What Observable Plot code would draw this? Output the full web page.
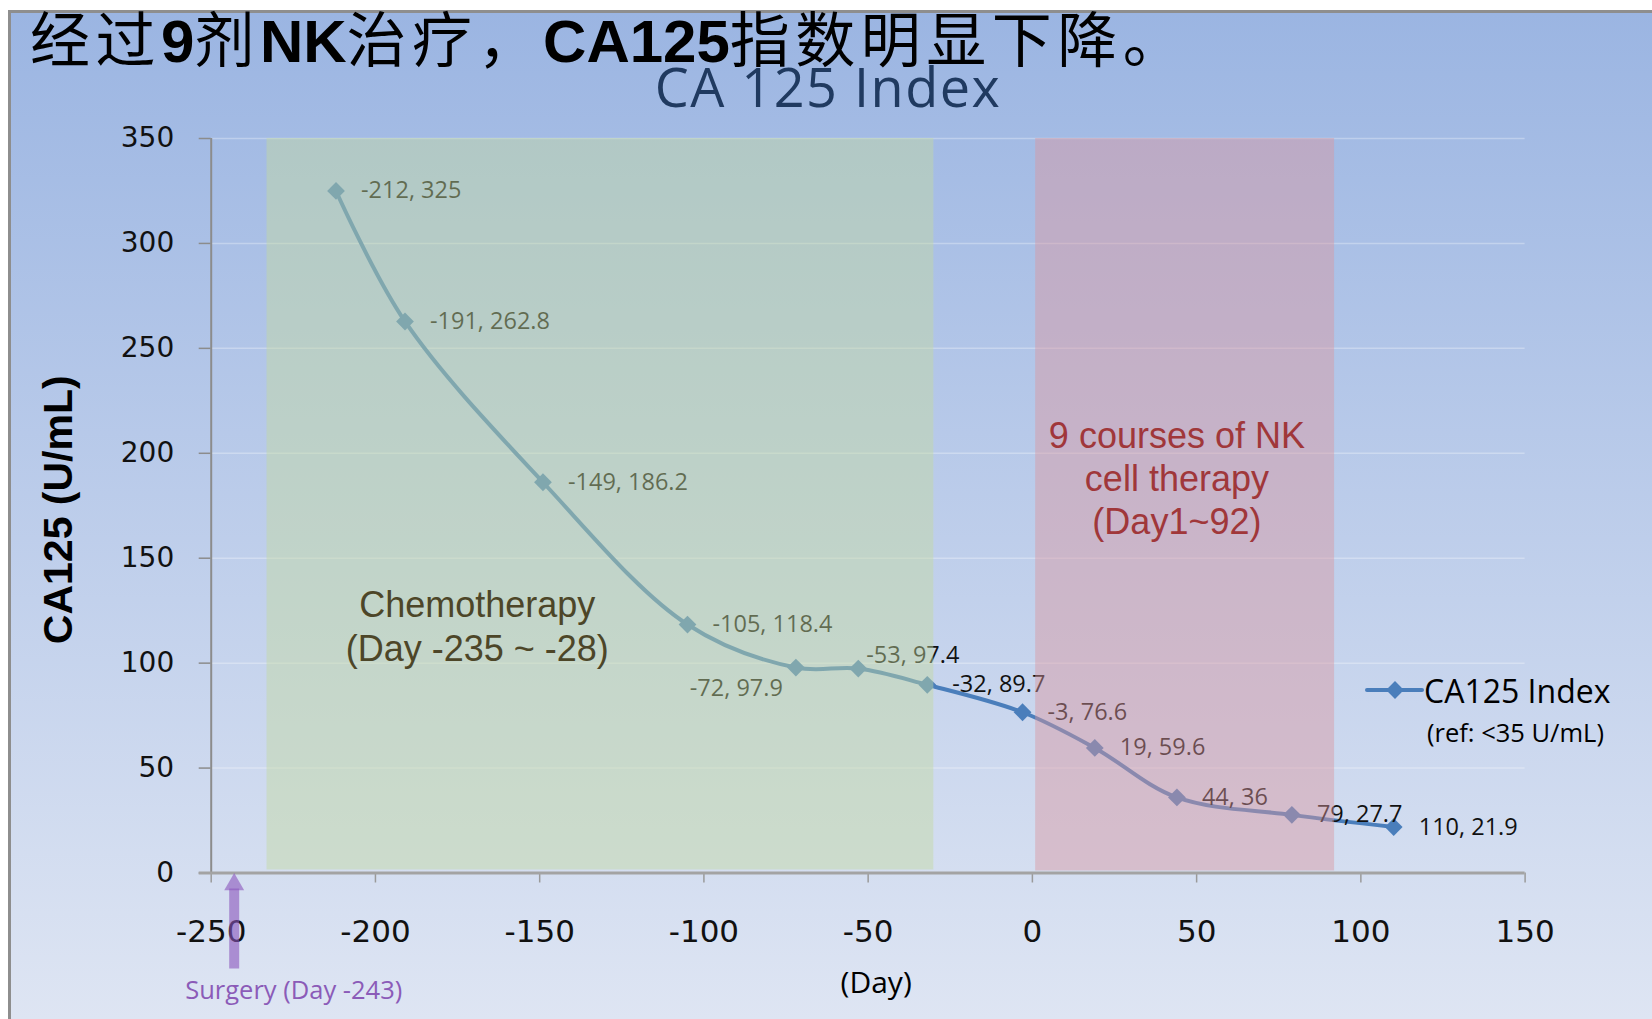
<!DOCTYPE html>
<html>
<head>
<meta charset="utf-8">
<script src="https://cdn.jsdelivr.net/npm/d3@7"></script>
<script src="https://cdn.jsdelivr.net/npm/@observablehq/plot@0.6"></script>
<style>
html,body{margin:0;padding:0;background:#fff;}
#wrap{position:relative;width:1652px;height:1019px;overflow:hidden;background:#fff;}
#panel{position:absolute;left:8px;top:10px;right:0;bottom:0;border-left:3px solid #8e8e8e;border-top:3px solid #8e8e8e;background:linear-gradient(to bottom,#9bb5e2 0%,#dee5f3 100%);}
#chart{position:absolute;left:0;top:0;}
#title{position:absolute;left:30px;top:9px;font-family:"Noto Sans CJK SC";font-size:60px;line-height:0.9;white-space:nowrap;color:#000;letter-spacing:5.5px;}
#title .lat{font-family:"Liberation Sans";font-weight:bold;letter-spacing:0;}
#subtitle{position:absolute;left:528px;width:600px;top:65px;text-align:center;font-family:"Open Sans";font-size:54px;line-height:0.8;color:#203a60;letter-spacing:1.5px;white-space:nowrap;}
#legendSwatch{position:absolute;left:1365px;top:680px;}
#legendName{position:absolute;left:1424px;top:675px;font-family:"Open Sans";font-size:32px;line-height:1;color:#000;white-space:nowrap;}
#legendRef{position:absolute;left:1427px;top:720px;font-family:"Open Sans";font-size:25.5px;line-height:1;color:#000;white-space:nowrap;}
</style>
</head>
<body>
<div id="wrap">
  <div id="panel"></div>
  <div id="chart"></div>
  <div id="title"></div>
  <div id="subtitle"></div>
  <svg id="legendSwatch" width="60" height="20"></svg>
  <div id="legendName"></div>
  <div id="legendRef"></div>
</div>
<script>
// ---- data ----
const titleText = "经过9剂NK治疗，CA125指数明显下降。";
const subtitleText = "CA 125 Index";
const seriesName = "CA125 Index";
const seriesRef = "(ref: <35 U/mL)";
const yTitle = "CA125 (U/mL)";
const xTitle = "(Day)";

const days = [-212, -191, -149, -105, -72, -53, -32, -3, 19, 44, 79, 110];
const ca125 = [325, 262.8, 186.2, 118.4, 97.9, 97.4, 89.7, 76.6, 59.6, 36, 27.7, 21.9];

const xTicks = [-250, -200, -150, -100, -50, 0, 50, 100, 150];
const yTicks = [0, 50, 100, 150, 200, 250, 300, 350];

const regionNames = ["Chemotherapy\n(Day -235 ~ -28)", "9 courses of NK\ncell therapy\n(Day1~92)"];
const regionStart = [-233, 1];
const regionEnd = [-30, 92];
const regionLabelDay = [-169, 44];
const regionLabelValue = [118, 188.5];

const surgeryDay = -243;
const surgeryLabel = "Surgery (Day -243)";

// ---- build ----
const points = days.map((d, i) => ({day: d, v: ca125[i], label: `${d}, ${ca125[i]}`}));
const regions = regionNames.map((n, i) => ({name: n, start: regionStart[i], end: regionEnd[i], lx: regionLabelDay[i], ly: regionLabelValue[i]}));

const lineColor = "#4a7ebb";
const special = new Set([-72, -53]);

const plot = Plot.plot({
  width: 1652,
  height: 1019,
  marginLeft: 210.7,
  marginRight: 127.4,
  marginTop: 138,
  marginBottom: 146.5,
  style: {background: "transparent", overflow: "visible"},
  x: {domain: [xTicks[0], xTicks[xTicks.length - 1]]},
  y: {domain: [yTicks[0], yTicks[yTicks.length - 1]]},
  marks: [
    Plot.gridY(yTicks, {stroke: "#ffffff", strokeOpacity: 0.3, strokeWidth: 1.5}),
    Plot.axisY({ticks: yTicks, tickSize: 12, tickPadding: 25, tickFormat: d => String(d),
      fontSize: 28, fontFamily: "DejaVu Sans", fill: "#111", stroke: "#8c8c8c", strokeWidth: 1.5, label: null}),
    Plot.axisX({ticks: xTicks, tickSize: 10, tickPadding: 37, tickFormat: d => String(d),
      fontSize: 31, fontFamily: "DejaVu Sans", fill: "#111", stroke: "#9a9a9a", strokeWidth: 1.5, label: null}),
    Plot.ruleX([xTicks[0]], {stroke: "#8c8c8c", strokeWidth: 2}),
    Plot.ruleY([yTicks[0]], {stroke: "#a3a3a3", strokeWidth: 3, insetLeft: -12}),
    Plot.line(points, {x: "day", y: "v", curve: "catmull-rom", stroke: lineColor, strokeWidth: 4}),
    Plot.dot(points, {x: "day", y: "v", symbol: "diamond2", r: 8, fill: lineColor, stroke: "none"}),
    Plot.text(points.filter(d => !special.has(d.day)), {x: "day", y: "v", text: "label", textAnchor: "start", dx: 25,
      fontSize: 23.5, fontFamily: "Open Sans", fill: "#111"}),
    Plot.text(points.filter(d => d.day === -72), {x: "day", y: "v", text: "label", textAnchor: "end", dx: -13, dy: 21,
      fontSize: 23.5, fontFamily: "Open Sans", fill: "#111"}),
    Plot.text(points.filter(d => d.day === -53), {x: "day", y: "v", text: "label", textAnchor: "start", dx: 8, dy: -13,
      fontSize: 23.5, fontFamily: "Open Sans", fill: "#111"}),
    Plot.rect(regions.slice(0, 1), {x1: "start", x2: "end", y1: 0, y2: yTicks[yTicks.length - 1], insetBottom: 3,
      fill: "#c4daa0", fillOpacity: 0.45}),
    Plot.rect(regions.slice(1, 2), {x1: "start", x2: "end", y1: 0, y2: yTicks[yTicks.length - 1], insetBottom: 2,
      fill: "#da96a0", fillOpacity: 0.45}),
    Plot.text(regions.slice(0, 1), {x: "lx", y: "ly", text: "name", lineHeight: 1.22, fontSize: 36,
      fontFamily: "Liberation Sans", fill: "#4d4628"}),
    Plot.text(regions.slice(1, 2), {x: "lx", y: "ly", text: "name", lineHeight: 1.2, fontSize: 36,
      fontFamily: "Liberation Sans", fill: "#a0373a"}),
    Plot.ruleX([surgeryDay], {y1: 0, y2: 0, insetTop: 16, insetBottom: -96, stroke: "#8a55bd", strokeOpacity: 0.6, strokeWidth: 10}),
    Plot.dot([surgeryDay], {x: d => d, y: 0, symbol: "triangle", r: 7.4, dy: 11.5, fill: "#8a55bd", fillOpacity: 0.6, stroke: "none"}),
    Plot.text([surgeryLabel], {x: [surgeryDay], y: [0], text: d => d, textAnchor: "start", dx: -49, dy: 117.5,
      fontSize: 25.5, fontFamily: "Open Sans", fill: "#8b5bb8"}),
    Plot.text([yTitle], {frameAnchor: "left", textAnchor: "middle", text: d => d, rotate: -90, dx: -152, dy: 4,
      fontSize: 41, fontWeight: "bold", fontFamily: "Liberation Sans", fill: "#000"}),
    Plot.text([xTitle], {frameAnchor: "bottom", textAnchor: "middle", text: d => d, dx: 8, dy: 120,
      fontSize: 30, fontFamily: "Open Sans", fill: "#000"})
  ]
});
document.getElementById("chart").appendChild(plot);

// title: Latin runs in a bold sans, CJK in Noto Sans CJK
const titleEl = document.getElementById("title");
titleText.split(/([0-9A-Za-z]+)/).forEach(part => {
  if (!part) return;
  if (/^[0-9A-Za-z]+$/.test(part)) {
    const s = document.createElement("span");
    s.className = "lat";
    s.textContent = part;
    titleEl.appendChild(s);
  } else {
    titleEl.appendChild(document.createTextNode(part));
  }
});
document.getElementById("subtitle").textContent = subtitleText;
document.getElementById("legendName").textContent = seriesName;
document.getElementById("legendRef").textContent = seriesRef;

// legend swatch (line + diamond) in the series style
const sw = d3.select("#legendSwatch");
sw.append("line").attr("x1", 2).attr("x2", 57).attr("y1", 10).attr("y2", 10)
  .attr("stroke", lineColor).attr("stroke-width", 4).attr("stroke-linecap", "round");
sw.append("path").attr("d", d3.symbol(d3.symbolDiamond2, 8 * 8 * Math.PI)()).attr("transform", "translate(30,10)")
  .attr("fill", lineColor);
</script>
</body>
</html>
